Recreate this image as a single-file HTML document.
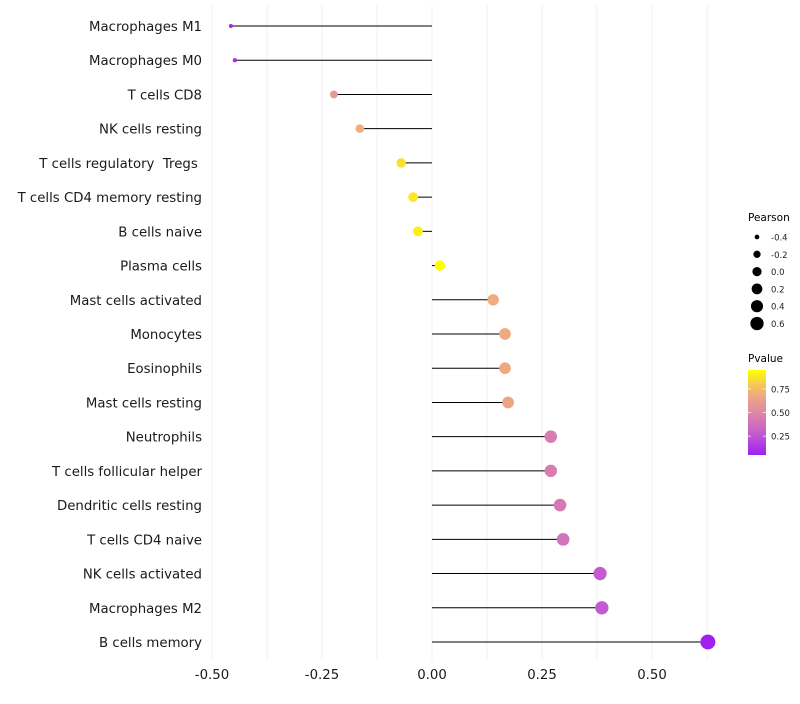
<!DOCTYPE html>
<html><head><meta charset="utf-8"><style>
body{margin:0;background:#fff;font-family:"DejaVu Sans",sans-serif}
text{white-space:pre}
</style></head><body>
<svg id="c" width="800" height="700" xmlns="http://www.w3.org/2000/svg" font-family="DejaVu Sans, sans-serif"></svg>
<script>
const categories=["Macrophages M1","Macrophages M0","T cells CD8","NK cells resting","T cells regulatory  Tregs ","T cells CD4 memory resting","B cells naive","Plasma cells","Mast cells activated","Monocytes","Eosinophils","Mast cells resting","Neutrophils","T cells follicular helper","Dendritic cells resting","T cells CD4 naive","NK cells activated","Macrophages M2","B cells memory"];
const pearson=[-0.457,-0.448,-0.223,-0.164,-0.070,-0.043,-0.032,0.018,0.139,0.166,0.166,0.173,0.270,0.270,0.291,0.298,0.382,0.386,0.627];
const pvalue=[0.08,0.1,0.6,0.7,0.86,0.88,0.9,0.95,0.7,0.68,0.68,0.66,0.45,0.45,0.42,0.4,0.27,0.27,0.05];
const xTicks=[-0.5,-0.25,0,0.25,0.5];
const xTickLabels=["-0.50","-0.25","0.00","0.25","0.50"];
const sizeLegend=[-0.4,-0.2,0.0,0.2,0.4,0.6];
const sizeLabels=["-0.4","-0.2","0.0","0.2","0.4","0.6"];
const pTicks=[0.25,0.5,0.75];
const pLabels=["0.25","0.50","0.75"];

const svg=document.getElementById('c');
const NS="http://www.w3.org/2000/svg";
function X(v){return 432+v*440;}
function Y(i){return 26+i*(616/18);}
function R(v){return Math.sqrt(Math.max(1,26+47.7*v));}
function P(p){return 455-(p-0.05)/0.9*85;}
const stops=[[0,[160,32,240]],[0.25,[196,92,208]],[0.5,[222,135,165]],[0.75,[242,178,120]],[1,[255,255,0]]];
function col(p){let t=(p-0.05)/0.9;t=Math.max(0,Math.min(1,t));
for(let k=1;k<stops.length;k++){if(t<=stops[k][0]){const a=stops[k-1],b=stops[k];const f=(t-a[0])/(b[0]-a[0]);
return 'rgb('+a[1].map((c,j)=>Math.round(c+(b[1][j]-c)*f)).join(',')+')';}}return 'rgb(255,255,0)';}
function el(tag,attrs,txt){const e=document.createElementNS(NS,tag);for(const k in attrs)e.setAttribute(k,attrs[k]);if(txt!==undefined)e.textContent=txt;svg.appendChild(e);return e;}

for(let v=-0.5;v<=0.625;v+=0.125){
 const g=el('line',{x1:X(v),x2:X(v),y1:5,y2:660,stroke:'#f1f1f1','stroke-width':1});
 
 
}
categories.forEach((c,i)=>{
 const t=el('text',{x:202,y:Y(i)+5,'text-anchor':'end','font-size':13.3,fill:'#1a1a1a'},c);
 
 
 const l=el('line',{x1:X(0),x2:X(pearson[i]),y1:Y(i),y2:Y(i),stroke:'#000','stroke-width':1});
 
 
 const d=el('circle',{cx:X(pearson[i]),cy:Y(i),r:R(pearson[i]),fill:col(pvalue[i])});
 
 
});
xTicks.forEach((v,i)=>{
 const t=el('text',{x:X(v),y:679,'text-anchor':'middle','font-size':13.3,fill:'#1a1a1a'},xTickLabels[i]);
 
 
});
const st=el('text',{x:748,y:221,'font-size':10.5,fill:'#000'},'Pearson');


sizeLegend.forEach((v,i)=>{
 const y=237+i*17.3;
 const c=el('circle',{cx:757,cy:y,r:R(v)*0.9,fill:'#000'});
 
 
 const t=el('text',{x:771,y:y+3.5,'font-size':8.5,fill:'#222'},sizeLabels[i]);
 
 
});
const ct=el('text',{x:748,y:362,'font-size':10.5,fill:'#000'},'Pvalue');


const defs=el('defs',{});
const lg=document.createElementNS(NS,'linearGradient');
lg.setAttribute('id','pg');lg.setAttribute('x1','0');lg.setAttribute('x2','0');lg.setAttribute('y1','1');lg.setAttribute('y2','0');
for(let k=0;k<=10;k++){const s=document.createElementNS(NS,'stop');s.setAttribute('offset',k/10);s.setAttribute('stop-color',col(0.05+0.09*k));lg.appendChild(s);}
defs.appendChild(lg);
const bar=el('rect',{x:748,y:370,width:18,height:85,fill:'url(#pg)'});


pTicks.forEach((p,i)=>{
 el('line',{x1:748,x2:751,y1:P(p),y2:P(p),stroke:'#fff','stroke-width':0.7});
 el('line',{x1:763,x2:766,y1:P(p),y2:P(p),stroke:'#fff','stroke-width':0.7});
 const t=el('text',{x:771,y:P(p)+3.5,'font-size':8.5,fill:'#222'},pLabels[i]);
 
 
});
</script>
</body></html>
